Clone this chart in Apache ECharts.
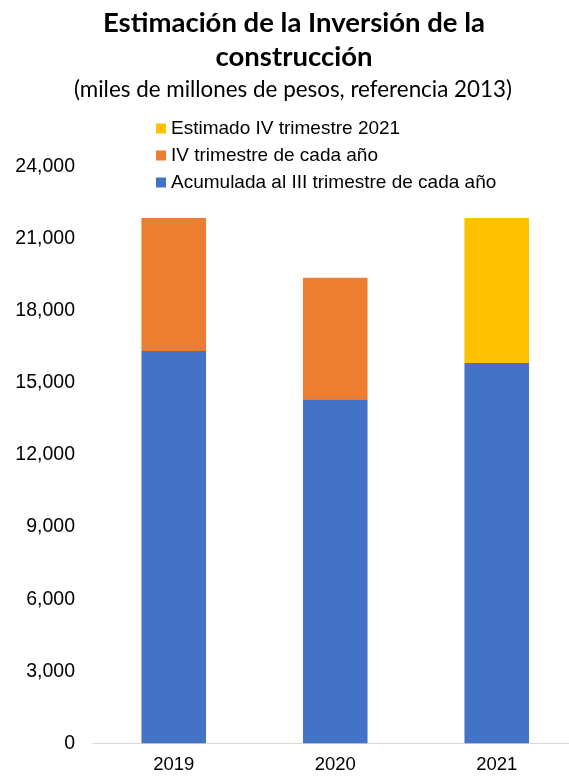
<!DOCTYPE html>
<html>
<head>
<meta charset="utf-8">
<script src="https://cdn.jsdelivr.net/npm/echarts@6/dist/echarts.min.js"></script>
<style>
  html, body { margin: 0; padding: 0; background: #ffffff; }
  #chart { width: 569px; height: 778px; }
</style>
</head>
<body>
<div id="chart"></div>
<script>
// Years on the category axis
const years = ['2019', '2020', '2021'];

// Investment, thousands of millions of pesos (base 2013)
const acumuladaIII = [16330, 14320, 15830];   // accumulated through Q3
const trimestreIV = [5535, 5060, null];       // Q4 of each year
const estimadoIV2021 = [null, null, 6035];    // estimated Q4 2021

// Value axis ticks
const yMin = 0;
const yMax = 24000;
const yStep = 3000;

const titleText = 'Estimación de la Inversión de la\nconstrucción';
const subtitleText = '(miles de millones de pesos, referencia 2013)';
const legendNames = ['Estimado IV trimestre 2021', 'IV trimestre de cada año', 'Acumulada al III trimestre de cada año'];

const chart = echarts.init(document.getElementById('chart'), null, { renderer: 'canvas' });

const fmt = v => v.toLocaleString('en-US');

chart.setOption({
  animation: false,
  backgroundColor: '#ffffff',
  title: [
    {
      text: titleText,
      left: 289,
      top: 1,
      textAlign: 'center',
      textStyle: {
        fontFamily: 'Lato',
        fontWeight: 'bold',
        fontSize: 27.5,
        lineHeight: 34,
        color: '#000000'
      }
    },
    {
      text: subtitleText,
      left: 288,
      top: 73,
      textAlign: 'center',
      textStyle: {
        fontFamily: 'Lato',
        fontWeight: 'normal',
        fontSize: 22.4,
        lineHeight: 24,
        color: '#000000'
      }
    }
  ],
  legend: {
    orient: 'vertical',
    left: 151,
    top: 114,
    itemWidth: 10,
    itemHeight: 10,
    itemGap: 8,
    icon: 'rect',
    data: legendNames,
    textStyle: {
      fontFamily: 'Liberation Sans',
      fontSize: 19,
      color: '#000000'
    }
  },
  grid: {
    left: 93,
    width: 484.5,
    top: 166.7,
    bottom: 34.7,
    containLabel: false,
    outerBoundsMode: 'none'
  },
  xAxis: {
    type: 'category',
    data: years,
    axisLine: { show: true, lineStyle: { color: '#D9D9D9', width: 1 } },
    axisTick: { show: false },
    axisLabel: {
      margin: 12,
      fontFamily: 'Liberation Sans',
      fontSize: 18.5,
      color: '#000000'
    }
  },
  yAxis: {
    type: 'value',
    min: yMin,
    max: yMax,
    interval: yStep,
    axisLine: { show: false },
    axisTick: { show: false },
    splitLine: { show: false },
    axisLabel: {
      margin: 18,
      fontFamily: 'Liberation Sans',
      fontSize: 19.5,
      color: '#000000',
      formatter: fmt
    }
  },
  series: [
    {
      name: legendNames[2],
      type: 'bar',
      stack: 'total',
      barWidth: '40%',
      itemStyle: { color: '#4472C4' },
      data: acumuladaIII
    },
    {
      name: legendNames[1],
      type: 'bar',
      stack: 'total',
      barWidth: '40%',
      itemStyle: { color: '#ED7D31' },
      data: trimestreIV
    },
    {
      name: legendNames[0],
      type: 'bar',
      stack: 'total',
      barWidth: '40%',
      itemStyle: { color: '#FFC000' },
      data: estimadoIV2021
    }
  ]
});
</script>
</body>
</html>
